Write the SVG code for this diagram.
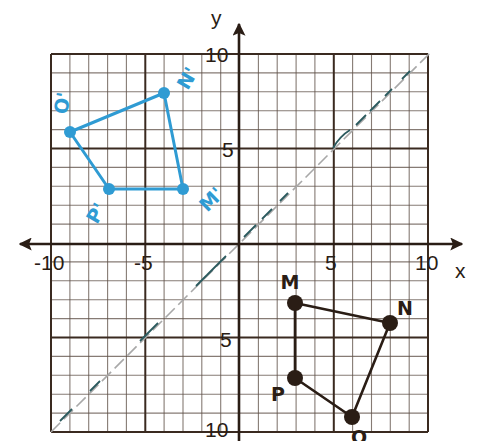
<svg xmlns="http://www.w3.org/2000/svg" width="486" height="441" viewBox="0 0 486 441">
<style>
.minor{stroke:#5e4f45;stroke-width:1.1;fill:none;opacity:.75}
.major{stroke:#3a2a20;stroke-width:2;fill:none}
.axis{stroke:#2a1d15;stroke-width:2.6;fill:none}
.num{font-family:"Liberation Sans",Arial,sans-serif;font-size:21px;fill:#2a1d15}
.blk{font-family:"DejaVu Sans","Liberation Sans",sans-serif;font-weight:bold;font-size:19px;fill:#2a1d15}
.blu{font-family:"DejaVu Sans","Liberation Sans",sans-serif;font-weight:bold;font-size:19px;fill:#2f9bd3}
.bfig{stroke:#2f9bd3;stroke-width:3;fill:none;stroke-linejoin:round}
.kfig{stroke:#2a1d15;stroke-width:2.6;fill:none;stroke-linejoin:round}
.bdot{fill:#2f9bd3}
.kdot{fill:#2a1d15}
</style>
<defs>
<marker id="ah" viewBox="0 0 10 10" refX="9" refY="5" markerWidth="5" markerHeight="5" orient="auto-start-reverse" markerUnits="strokeWidth">
<path d="M0,0 L10,5 L0,10 L2,5 Z" fill="#2a1d15"/>
</marker>
</defs>
<rect width="486" height="441" fill="#ffffff"/>
<g id="grid">
<path class="minor" d="M69.9 54V432M88.7 54V432M107.6 54V432M126.4 54V432M164.1 54V432M183 54V432M201.8 54V432M220.7 54V432M258.4 54V432M277.2 54V432M296.1 54V432M314.9 54V432M352.6 54V432M371.5 54V432M390.3 54V432M409.2 54V432"/>
<path class="minor" d="M51 72.9H428M51 91.8H428M51 110.7H428M51 129.6H428M51 167.4H428M51 186.3H428M51 205.2H428M51 224.1H428M51 261.9H428M51 280.8H428M51 299.7H428M51 318.6H428M51 356.4H428M51 375.3H428M51 394.2H428M51 413.1H428"/>
<path class="major" d="M51 54V432M145.3 54V432M333.8 54V432M428 54V432M51 54H428M51 148.5H428M51 337.5H428M51 432H428"/>
</g>
<g id="mirror-line">
<path d="M51 432L431 52" stroke="#a8a8a8" stroke-width="1.6" stroke-dasharray="13 5" fill="none"/>
<path d="M333 148Q340 136 350 130M356 125L366 115M370 111L380 101M385 96L392 89M402 79L410 71M244 237L256 225M262 219L272 209M280 201L288 193M207 275L226 256M140 341L158 323M90 391L100 381M60 421L72 409M196 286L208 274" stroke="#2b5a5e" stroke-width="1.8" fill="none"/>
</g>
<g id="axes">
<path class="axis" d="M239 441V24" marker-end="url(#ah)"/>
<path class="axis" d="M20 244H462" marker-start="url(#ah)" marker-end="url(#ah)"/>
</g>
<g id="labels">
<text class="num" x="211" y="25" font-size="22">y</text>
<text class="num" x="205" y="62">10</text>
<text class="num" x="222" y="157">5</text>
<text class="num" x="34" y="270">-10</text>
<text class="num" x="134" y="270">-5</text>
<text class="num" x="325" y="270">5</text>
<text class="num" x="415" y="270">10</text>
<text class="num" x="455" y="278" font-size="22">x</text>
<text class="num" x="220" y="347">5</text>
<text class="num" x="205" y="437">10</text>
</g>
<g id="connectors">
<path class="bfig" d="M164 93L183 189L109 189L70 132Z"/>
<path class="kfig" d="M295 303L390 323L352 417L295 378Z"/>
</g>
<g id="node-M1">
<circle class="bdot" cx="183" cy="189" r="6"/>
<text class="blu" transform="translate(211 199) rotate(-45)" text-anchor="middle" dy="7">M'</text>
</g>
<g id="node-N1">
<circle class="bdot" cx="164" cy="93" r="6"/>
<text class="blu" transform="translate(187 78) rotate(-60)" text-anchor="middle" dy="7">N'</text>
</g>
<g id="node-O1">
<circle class="bdot" cx="70" cy="132" r="6"/>
<text class="blu" transform="translate(62 103) rotate(-80)" text-anchor="middle" dy="7">O'</text>
</g>
<g id="node-P1">
<circle class="bdot" cx="109" cy="189" r="6"/>
<text class="blu" transform="translate(96 213) rotate(-60)" text-anchor="middle" dy="7">P'</text>
</g>
<g id="node-M">
<circle class="kdot" cx="295" cy="303" r="8"/>
<text class="blk" x="290" y="289" text-anchor="middle" font-size="16">M</text>
</g>
<g id="node-N">
<circle class="kdot" cx="390" cy="323" r="8"/>
<text class="blk" x="405" y="315" text-anchor="middle">N</text>
</g>
<g id="node-P">
<circle class="kdot" cx="295" cy="378" r="8"/>
<text class="blk" x="278" y="401" text-anchor="middle" font-size="20">P</text>
</g>
<g id="node-O">
<circle class="kdot" cx="352" cy="417" r="8"/>
<text class="blk" x="359" y="444" text-anchor="middle">O</text>
</g>
</svg>
